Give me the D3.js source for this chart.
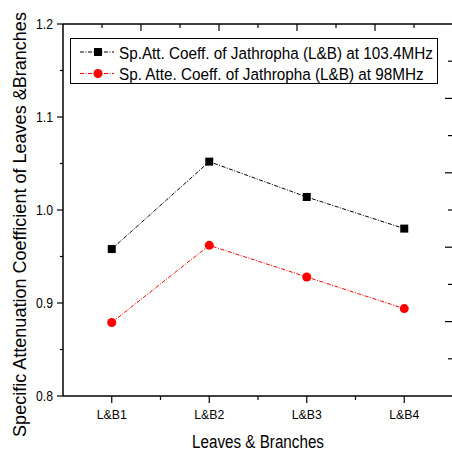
<!DOCTYPE html>
<html><head><meta charset="utf-8">
<script src="https://cdn.jsdelivr.net/npm/d3@7"></script>
<style>body{margin:0;background:#fff}svg{display:block}text{font-family:"Liberation Sans",Arial,sans-serif;fill:#000}</style>
</head><body>
<script>
const categories = ["L&B1","L&B2","L&B3","L&B4"];
const series103 = [0.958,1.052,1.014,0.980];
const series98 = [0.879,0.962,0.928,0.894];
const yTicks = [0.8,0.9,1.0,1.1,1.2];
const seriesNames = ["Sp.Att. Coeff. of Jathropha (L&B) at 103.4MHz","Sp. Atte. Coeff. of Jathropha (L&B) at 98MHz"];
const xTitle = "Leaves & Branches";
const yTitle = "Specific Attenuation Coefficient of Leaves &Branches";

const W=452,H=453;
const L=63,R=453,T=24,B=396;
const svg=d3.select("body").append("svg").attr("width",W).attr("height",H);
const x=d3.scaleLinear().domain([0.5,4.5]).range([L,R]);
const y=d3.scaleLinear().domain([0.8,1.2]).range([B,T]);

// text drawn at font size fs, squeezed horizontally to width len
function txt(g,xx,yy,s,fs,len,anchor){
  const gg=g.append("g");
  const t=gg.append("text").attr("font-size",fs).attr("text-anchor",anchor||"start").text(s);
  const nat=t.node().getComputedTextLength();
  const sx=len?len/nat:1;
  gg.attr("transform",`translate(${xx},${yy}) scale(${sx},1)`);
  return gg;
}

// bottom axis
const bx=svg.append("g").attr("transform",`translate(0,${B})`);
[1,1.5,2,2.5,3,3.5,4].forEach(v=>{
  const major=Number.isInteger(v);
  bx.append("line").attr("x1",x(v)).attr("x2",x(v)).attr("y1",0).attr("y2",major?7:4).attr("stroke","#000").attr("stroke-width",1.2);
});
categories.forEach((c,i)=>{
  txt(bx,x(i+1),23,c,13.5,30,"middle");
});

// left axis
const ly=svg.append("g");
d3.range(0,9).forEach(k=>{
  const v=0.8+k*0.05;
  const major=k%2===0;
  ly.append("line").attr("x1",L).attr("x2",L-(major?6:3)).attr("y1",y(v)).attr("y2",y(v)).attr("stroke","#000").attr("stroke-width",1.2);
});
yTicks.forEach(v=>{
  txt(ly,53,y(v)+5,v.toFixed(1),14,17,"end");
});

// top & right linked axes (5 intervals)
const tScale=d3.scaleLinear().domain([0,10]).range([L,R]);
const rScale=d3.scaleLinear().domain([0,10]).range([T,B]);
d3.range(1,10).forEach(k=>{
  const major=k%2===0;
  svg.append("line").attr("x1",tScale(k)).attr("x2",tScale(k)).attr("y1",T).attr("y2",T+(major?7:4)).attr("stroke","#000").attr("stroke-width",1.2);
  svg.append("line").attr("x1",R-1).attr("x2",R-1-(major?7:4)).attr("y1",rScale(k)).attr("y2",rScale(k)).attr("stroke","#000").attr("stroke-width",1.2);
});

// frame
svg.append("line").attr("x1",L).attr("x2",R).attr("y1",B).attr("y2",B).attr("stroke","#000").attr("stroke-width",1.5);
svg.append("line").attr("x1",L).attr("x2",R).attr("y1",T).attr("y2",T).attr("stroke","#000").attr("stroke-width",1.5);
svg.append("line").attr("x1",L).attr("x2",L).attr("y1",T).attr("y2",B).attr("stroke","#000").attr("stroke-width",1.5);

// titles
txt(svg,258,448,xTitle,19,132,"middle");
const yt=svg.append("g").attr("transform","translate(26,224.5) rotate(-90)");
txt(yt,0,0,yTitle,18,425,"middle");

// series
const dash="4,1.5,1,1.5";
const line=d3.line().x((d,i)=>x(i+1)).y(d=>y(d));
svg.append("path").datum(series103).attr("d",line).attr("fill","none").attr("stroke","#000").attr("stroke-width",1).attr("stroke-dasharray",dash);
svg.append("path").datum(series98).attr("d",line).attr("fill","none").attr("stroke","#f00").attr("stroke-width",1).attr("stroke-dasharray",dash);
svg.selectAll(".sq").data(series103).enter().append("rect").attr("x",(d,i)=>x(i+1)-4).attr("y",d=>y(d)-4).attr("width",8).attr("height",8).attr("fill","#000");
svg.selectAll(".ci").data(series98).enter().append("circle").attr("cx",(d,i)=>x(i+1)).attr("cy",d=>y(d)).attr("r",4.5).attr("fill","#f00");

// legend
const lg=svg.append("g");
lg.append("rect").attr("x",70.5).attr("y",38.5).attr("width",367).attr("height",45).attr("fill","#fff").attr("stroke","#000").attr("stroke-width",1);
const legLens=[314,305];
[0,1].forEach(i=>{
  const yy=52+i*21.5;
  lg.append("line").attr("x1",80).attr("x2",114).attr("y1",yy).attr("y2",yy).attr("stroke",i?"#f00":"#000").attr("stroke-dasharray",dash);
  if(i===0) lg.append("rect").attr("x",94).attr("y",yy-4).attr("width",8).attr("height",8).attr("fill","#000");
  else lg.append("circle").attr("cx",98).attr("cy",yy).attr("r",4.5).attr("fill","#f00");
  txt(lg,119,yy+6.5,seriesNames[i],17,legLens[i]);
});
</script>
</body></html>
